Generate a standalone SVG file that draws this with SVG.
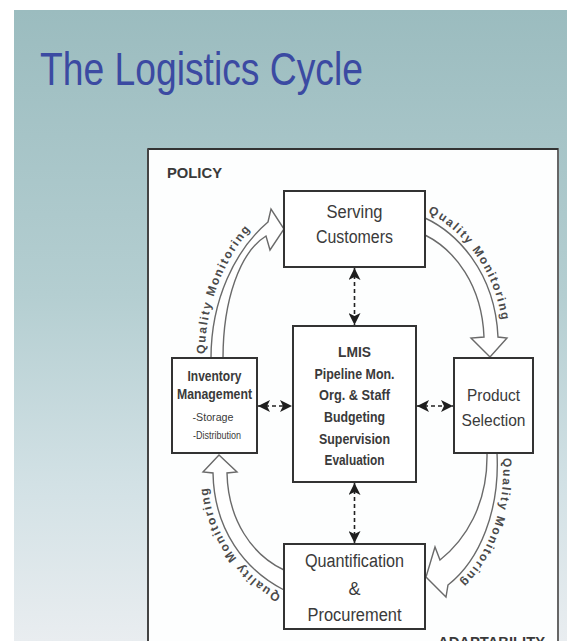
<svg xmlns="http://www.w3.org/2000/svg" width="567" height="641" viewBox="0 0 567 641">
<defs>
<linearGradient id="bg" x1="0" y1="0" x2="0" y2="1">
<stop offset="0" stop-color="#9bbcbf"/>
<stop offset="0.45" stop-color="#b4ced1"/>
<stop offset="0.75" stop-color="#d2e1e5"/>
<stop offset="1" stop-color="#e9edf0"/>
</linearGradient>
<marker id="ah" viewBox="0 0 10 10" refX="10" refY="5" markerWidth="12" markerHeight="12" markerUnits="userSpaceOnUse" orient="auto-start-reverse">
<path d="M0,0 L10,5 L0,10 L2.5,5 z" fill="#1e1e1e"/>
</marker>
<path id="tp1" d="M205,354 C205,298 230,245 266,214"/>
<path id="tp2" d="M428,213 C458,227 500,268 504,340"/>
<path id="tp3" d="M503,458 C506,512 486,563 449,592"/>
<path id="tp4" d="M281,595 C242,575 208,532 207,474"/>
</defs>
<style>
.box{fill:#fff;stroke:#333;stroke-width:2}
.lbl{font-family:"Liberation Sans",Arial,sans-serif;fill:#3a3a3a;text-anchor:middle}
.big{font-size:18px}
.b{font-weight:bold}
.band{fill:#fff;stroke:#6a6a6a;stroke-width:1.4;stroke-linejoin:miter}
.qm{font-family:"Liberation Sans",Arial,sans-serif;font-size:12px;font-weight:bold;fill:#4a4a4a;letter-spacing:1.7px}
.dash{stroke:#222;stroke-width:1.6;stroke-dasharray:4 3;fill:none;marker-start:url(#ah);marker-end:url(#ah)}
</style>
<rect x="0" y="0" width="567" height="641" fill="#ffffff"/>
<rect x="14" y="10" width="553" height="631" fill="url(#bg)"/>
<text x="40" y="85" font-family="'Liberation Sans',Arial,sans-serif" font-size="46" fill="#3b4aa2" textLength="323" lengthAdjust="spacingAndGlyphs">The Logistics Cycle</text>

<g id="frame">
<rect x="148" y="149" width="410" height="500" fill="#fdfefe" stroke="#666" stroke-width="2"/>
<line x1="148" y1="149" x2="558" y2="149" stroke="#333" stroke-width="2"/>
<line x1="148" y1="149" x2="148" y2="641" stroke="#444" stroke-width="2"/>
<text x="167" y="178" font-family="'Liberation Sans',Arial,sans-serif" font-size="15" font-weight="bold" fill="#3a3a3a" textLength="55" lengthAdjust="spacingAndGlyphs">POLICY</text>
<text x="438" y="647" font-family="'Liberation Sans',Arial,sans-serif" font-size="14" font-weight="bold" fill="#3a3a3a" textLength="107" lengthAdjust="spacingAndGlyphs">ADAPTABILITY</text>
</g>

<g id="connectors">
<path class="band" d="M211,358 C211,300 235,250 268,222 L271,209 L284,229 L270,250 L266,236 C240,252 223,300 223,358"/>
<path class="band" d="M425,218 C455,232 495,270 498,337 L507,338 L490,357 L471,338 L484,337 C482,285 455,250 425,235"/>
<path class="band" d="M497,453 C500,510 480,560 448,585 L446,597 L426,577 L435,547 L440,560 C465,540 488,505 487,453"/>
<path class="band" d="M284,590 C245,570 214,530 213,473 L203,472 L219,455 L237,472 L227,473 C228,520 252,555 284,570"/>
<text class="qm"><textPath href="#tp1">Quality Monitoring</textPath></text>
<text class="qm"><textPath href="#tp2">Quality Monitoring</textPath></text>
<text class="qm"><textPath href="#tp3">Quality Monitoring</textPath></text>
<text class="qm"><textPath href="#tp4">Quality Monitoring</textPath></text>
<line class="dash" x1="354.5" y1="268" x2="354.5" y2="325"/>
<line class="dash" x1="354.5" y1="483" x2="354.5" y2="543"/>
<line class="dash" x1="258" y1="406" x2="292" y2="406"/>
<line class="dash" x1="417" y1="406" x2="453" y2="406"/>
</g>

<g id="serving">
<rect class="box" x="284" y="191" width="141" height="76"/>
<text class="lbl big" x="354.5" y="218" textLength="56" lengthAdjust="spacingAndGlyphs">Serving</text>
<text class="lbl big" x="354.5" y="243" textLength="77" lengthAdjust="spacingAndGlyphs">Customers</text>
</g>

<g id="lmis">
<rect class="box" x="293" y="326" width="123" height="156"/>
<text class="lbl b" font-size="14" x="354.5" y="357" textLength="33" lengthAdjust="spacingAndGlyphs">LMIS</text>
<text class="lbl b" font-size="15" x="354.5" y="379" textLength="80" lengthAdjust="spacingAndGlyphs">Pipeline Mon.</text>
<text class="lbl b" font-size="15" x="354.5" y="400" textLength="71" lengthAdjust="spacingAndGlyphs">Org. &amp; Staff</text>
<text class="lbl b" font-size="15" x="354.5" y="422" textLength="61" lengthAdjust="spacingAndGlyphs">Budgeting</text>
<text class="lbl b" font-size="15" x="354.5" y="444" textLength="71" lengthAdjust="spacingAndGlyphs">Supervision</text>
<text class="lbl b" font-size="15" x="354.5" y="465" textLength="60" lengthAdjust="spacingAndGlyphs">Evaluation</text>
</g>

<g id="inventory">
<rect class="box" x="172" y="358" width="85" height="95"/>
<text class="lbl b" font-size="14.5" x="214.5" y="381" textLength="54" lengthAdjust="spacingAndGlyphs">Inventory</text>
<text class="lbl b" font-size="14.5" x="214.5" y="399" textLength="75" lengthAdjust="spacingAndGlyphs">Management</text>
<text class="lbl" font-size="10.5" x="213" y="421" textLength="41" lengthAdjust="spacingAndGlyphs">-Storage</text>
<text class="lbl" font-size="10.5" x="217" y="439" textLength="48" lengthAdjust="spacingAndGlyphs">-Distribution</text>
</g>

<g id="product">
<rect class="box" x="454" y="358" width="79" height="95"/>
<text class="lbl" font-size="17" x="493.5" y="401" textLength="53" lengthAdjust="spacingAndGlyphs">Product</text>
<text class="lbl" font-size="17" x="493.5" y="426" textLength="64" lengthAdjust="spacingAndGlyphs">Selection</text>
</g>

<g id="quantification">
<rect class="box" x="284" y="544" width="141" height="85"/>
<text class="lbl big" x="354.5" y="567" textLength="99" lengthAdjust="spacingAndGlyphs">Quantification</text>
<text class="lbl big" x="354.5" y="595">&amp;</text>
<text class="lbl big" x="354.5" y="621" textLength="94" lengthAdjust="spacingAndGlyphs">Procurement</text>
</g>
</svg>
